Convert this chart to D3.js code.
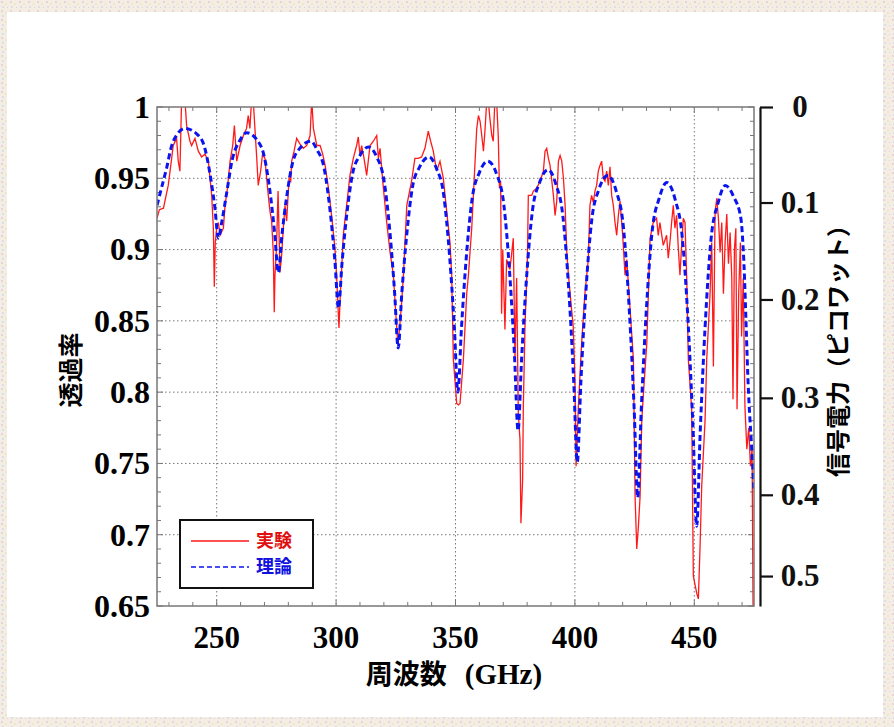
<!DOCTYPE html>
<meta charset="utf-8">
<style>

body {
    margin: 0;
    background: #f2ebe6;
}

text {
    font-family: 'Liberation Serif', 'Times New Roman', serif;
    font-weight: bold;
}

.cjk {
    font-family: 'Noto Sans CJK JP', sans-serif;
    font-weight: bold;
}

.grid line {
    stroke: #777;
    stroke-width: 1;
    stroke-dasharray: 1.5,2.5;
}

.minor line {
    stroke: #777;
    stroke-width: 1;
}

</style>
<svg id="chart" width="894" height="727"></svg>
<script src="https://d3js.org/d3.v7.min.js"></script>

<script>

    // axis values
    var freqTicks = [250, 300, 350, 400, 450];
    var transTicks = [1, 0.95, 0.9, 0.85, 0.8, 0.75, 0.7, 0.65];
    var powerTicks = [0, 0.1, 0.2, 0.3, 0.4, 0.5];
    // where each power tick sits on the transmission scale
    var powerAtTrans = [1.0, 0.933, 0.865, 0.796, 0.728, 0.671];

    // 実験 (measured), [GHz, transmission]
    var experiment = [
        [225.0,0.922],[226.0,0.928],[227.7,0.929],[229.7,0.945],[231.0,0.962],[231.8,0.973],[233.2,0.978],[233.9,0.962],
        [234.6,0.955],[235.3,1.005],[236.7,1.005],[237.4,0.987],[238.8,0.976],[239.5,0.973],[240.9,0.978],[242.3,0.969],
        [243.7,0.965],[245.1,0.967],[246.5,0.962],[247.9,0.938],[248.6,0.915],[249.0,0.874],[249.4,0.905],[250.0,0.915],
        [250.7,0.919],[251.4,0.910],[252.8,0.915],[253.5,0.931],[254.5,0.943],[255.6,0.962],[256.7,0.973],[257.4,0.987],
        [258.4,0.962],[259.8,0.973],[261.2,0.980],[262.5,0.985],[263.2,0.994],[263.9,0.985],[264.6,1.005],[265.3,1.005],
        [266.0,0.985],[266.7,0.966],[267.4,0.945],[268.4,0.955],[269.2,0.967],[270.2,0.964],[270.9,0.950],[271.6,0.938],
        [272.3,0.927],[273.0,0.920],[273.7,0.898],[274.1,0.856],[274.4,0.882],[275.0,0.900],[275.7,0.941],[276.5,0.884],
        [277.2,0.896],[277.9,0.915],[278.6,0.931],[279.3,0.920],[280.3,0.950],[281.0,0.948],[281.4,0.962],[282.4,0.969],
        [283.5,0.978],[284.9,0.974],[286.3,0.971],[287.7,0.973],[289.1,0.980],[289.8,1.005],[290.5,0.985],[291.9,0.973],
        [293.3,0.973],[294.4,0.967],[295.4,0.959],[296.8,0.943],[298.1,0.924],[299.5,0.901],[300.2,0.882],[301.2,0.845],
        [301.8,0.870],[302.3,0.885],[303.0,0.910],[304.4,0.931],[305.8,0.952],[307.2,0.964],[308.6,0.973],[309.3,0.979],
        [310.0,0.966],[310.7,0.973],[311.7,0.964],[312.8,0.952],[314.2,0.973],[315.6,0.976],[317.0,0.980],[317.7,0.964],
        [318.4,0.971],[319.8,0.943],[321.2,0.919],[322.6,0.898],[324.0,0.882],[325.0,0.855],[325.9,0.833],[326.6,0.845],
        [327.4,0.862],[328.2,0.882],[329.6,0.931],[331.0,0.943],[331.6,0.948],[333.0,0.964],[334.4,0.964],[335.8,0.965],
        [337.2,0.971],[338.6,0.983],[339.6,0.976],[340.7,0.969],[342.1,0.955],[343.5,0.962],[344.9,0.950],[346.3,0.927],
        [347.7,0.905],[348.4,0.882],[349.1,0.823],[350.5,0.792],[351.2,0.791],[351.9,0.792],[353.3,0.823],[354.7,0.869],
        [355.4,0.882],[356.8,0.915],[358.2,0.962],[358.9,0.985],[359.6,0.994],[360.3,0.990],[361.0,0.980],[361.7,0.969],
        [362.4,0.985],[363.1,1.005],[363.7,1.005],[364.4,0.992],[365.2,0.980],[365.8,0.976],[366.5,1.005],[367.2,1.005],
        [367.9,0.980],[368.4,0.943],[368.9,0.948],[369.3,0.855],[369.8,0.900],[370.7,0.844],[371.4,0.893],[372.8,0.886],
        [374.2,0.908],[374.9,0.823],[375.6,0.880],[376.3,0.785],[377.0,0.767],[377.4,0.708],[378.1,0.738],[378.4,0.790],
        [379.1,0.846],[380.1,0.893],[380.5,0.938],[381.9,0.938],[382.6,0.941],[384.0,0.943],[385.4,0.948],[386.8,0.955],
        [387.5,0.969],[388.2,0.971],[388.9,0.964],[389.6,0.959],[391.0,0.938],[391.7,0.924],[392.4,0.934],[393.1,0.962],
        [393.8,0.966],[394.5,0.962],[395.2,0.950],[395.9,0.931],[396.6,0.898],[397.3,0.882],[398.5,0.860],[399.3,0.846],
        [400.0,0.811],[400.5,0.748],[401.4,0.788],[402.8,0.834],[404.2,0.869],[405.6,0.893],[406.3,0.931],[407.0,0.938],
        [407.7,0.933],[408.4,0.941],[409.1,0.945],[409.8,0.955],[410.5,0.959],[411.2,0.962],[411.9,0.950],[412.6,0.948],
        [413.3,0.955],[414.0,0.945],[414.7,0.958],[415.4,0.938],[416.1,0.931],[416.8,0.919],[417.5,0.910],[418.2,0.924],
        [418.9,0.934],[420.0,0.910],[421.0,0.882],[421.7,0.893],[423.1,0.858],[424.5,0.823],[425.2,0.727],[425.9,0.690],
        [426.6,0.706],[427.3,0.727],[428.0,0.780],[428.7,0.799],[430.1,0.834],[431.5,0.908],[432.8,0.919],[434.2,0.922],
        [434.9,0.910],[435.6,0.919],[437.0,0.903],[438.4,0.910],[439.1,0.894],[439.8,0.905],[440.5,0.919],[441.2,0.931],
        [441.9,0.915],[442.6,0.924],[443.3,0.901],[444.0,0.882],[444.6,0.900],[445.4,0.922],[446.1,0.919],[446.8,0.882],
        [447.5,0.823],[448.9,0.788],[449.6,0.671],[451.0,0.659],[451.7,0.655],[452.4,0.691],[453.1,0.734],[453.8,0.757],
        [454.5,0.780],[455.2,0.823],[455.9,0.846],[456.6,0.869],[457.3,0.905],[458.0,0.818],[458.7,0.926],[459.4,0.936],
        [460.1,0.922],[460.8,0.898],[461.5,0.919],[462.2,0.869],[462.9,0.905],[463.6,0.925],[464.3,0.890],[465.0,0.912],
        [465.7,0.880],[466.2,0.795],[466.8,0.900],[467.4,0.915],[467.9,0.788],[468.6,0.870],[469.3,0.905],[469.8,0.839],
        [470.5,0.880],[471.2,0.790],[472.0,0.760],[472.8,0.775],[473.5,0.748],[474.2,0.760],[474.6,0.650]
    ];

    // 理論 (theory), [GHz, transmission]
    var theory = [
        [225,0.931],[227,0.944],[229,0.957],[231,0.972],[233.5,0.981],[236.7,0.985],[241.7,0.981],[244.7,0.973],
        [247.2,0.953],[249.2,0.930],[250.7,0.908],[252.2,0.920],[254.2,0.940],[256.5,0.963],[259.5,0.976],[262.5,0.982],
        [266.8,0.977],[269.8,0.966],[272.3,0.941],[274.3,0.911],[275.8,0.884],[277.3,0.910],[279.3,0.937],[281.8,0.961],
        [284.8,0.971],[289.5,0.976],[292.0,0.970],[295.0,0.957],[297.5,0.927],[299.5,0.892],[301.0,0.859],[302.5,0.891],
        [304.5,0.925],[307.0,0.954],[310.0,0.966],[313.5,0.972],[317.0,0.965],[320.0,0.949],[322.5,0.913],[324.5,0.870],
        [326.0,0.831],[327.5,0.869],[329.5,0.909],[332.0,0.944],[335.0,0.958],[339.0,0.965],[342.0,0.957],[345.0,0.939],
        [347.5,0.896],[349.5,0.846],[351.0,0.800],[352.5,0.845],[354.5,0.894],[357.0,0.936],[360.0,0.954],[363.5,0.962],
        [367.2,0.953],[370.2,0.932],[372.7,0.883],[374.7,0.826],[376.2,0.773],[377.7,0.824],[379.7,0.879],[382.2,0.927],
        [385.2,0.947],[388.8,0.956],[392.0,0.946],[395.0,0.923],[397.5,0.870],[399.5,0.808],[401.0,0.751],[402.5,0.807],
        [404.5,0.868],[407.0,0.920],[410.0,0.942],[413.8,0.952],[417.3,0.941],[420.3,0.916],[422.8,0.857],[424.8,0.789],
        [426.3,0.726],[427.8,0.788],[429.8,0.854],[432.3,0.912],[435.3,0.936],[438.5,0.947],[442.0,0.935],[445.0,0.908],
        [447.5,0.846],[449.5,0.773],[451.0,0.706],[452.5,0.773],[454.5,0.845],[457.0,0.907],[460.0,0.933],[463.0,0.945],
        [466.5,0.937],[469.5,0.922],[470.5,0.900],[472.7,0.800],[474.4,0.750],[475,0.730]
    ];

    var svg = d3.select("#chart"),
        plot = {left: 157, right: 754, top: 107, bottom: 606};

    // paper-like border and white panel
    var defs = svg.append("defs");
    var pat = defs.append("pattern").attr("id", "paper")
        .attr("width", 9).attr("height", 9).attr("patternUnits", "userSpaceOnUse");
    pat.append("rect").attr("width", 9).attr("height", 9).attr("fill", "#f3ede4");
    pat.append("rect").attr("x", 1).attr("y", 1).attr("width", 2).attr("height", 2).attr("fill", "#e9d3d6");
    pat.append("rect").attr("x", 5).attr("y", 3).attr("width", 2).attr("height", 2).attr("fill", "#ece8c8");
    pat.append("rect").attr("x", 2).attr("y", 6).attr("width", 2).attr("height", 2).attr("fill", "#dcdde8");
    pat.append("rect").attr("x", 7).attr("y", 7).attr("width", 1).attr("height", 1).attr("fill", "#e8d0c8");

    svg.append("rect").attr("width", 894).attr("height", 727).attr("fill", "url(#paper)");
    svg.append("rect").attr("x", 7).attr("y", 12).attr("width", 876).attr("height", 705)
        .attr("fill", "#fff");

    defs.append("clipPath").attr("id", "clip").append("rect")
        .attr("x", plot.left).attr("y", plot.top)
        .attr("width", plot.right - plot.left).attr("height", plot.bottom - plot.top);

    var x = d3.scaleLinear().domain([225, 475]).range([plot.left, plot.right]);
    var y = d3.scaleLinear().domain([0.65, 1]).range([plot.bottom, plot.top]);
    var power = d3.scaleLinear()
        .domain(powerTicks.concat([0.536]))
        .range(powerAtTrans.concat([0.65]).map(y));

    // dotted grid
    var grid = svg.append("g").attr("class", "grid");
    grid.selectAll(".gx").data(freqTicks).enter().append("line")
        .attr("x1", x).attr("x2", x).attr("y1", plot.top).attr("y2", plot.bottom);
    grid.selectAll(".gy").data(transTicks.slice(1, -1)).enter().append("line")
        .attr("y1", y).attr("y2", y).attr("x1", plot.left).attr("x2", plot.right);

    // inward ticks on all four sides of the frame
    var minor = svg.append("g").attr("class", "minor");
    var xt = d3.range(230, 475, 10);
    minor.selectAll(".tb").data(xt).enter().append("line")
        .attr("x1", x).attr("x2", x).attr("y1", plot.bottom)
        .attr("y2", function(d) { return plot.bottom - (d % 50 ? 4 : 6); });
    minor.selectAll(".tt").data(xt).enter().append("line")
        .attr("x1", x).attr("x2", x).attr("y1", plot.top)
        .attr("y2", function(d) { return plot.top + (d % 50 ? 4 : 6); });
    var yt = y.ticks(35);
    minor.selectAll(".tl").data(yt).enter().append("line")
        .attr("y1", y).attr("y2", y).attr("x1", plot.left)
        .attr("x2", function(d, i) { return plot.left + (i % 5 ? 4 : 6); });
    minor.selectAll(".tr").data(yt).enter().append("line")
        .attr("y1", y).attr("y2", y).attr("x1", plot.right)
        .attr("x2", function(d, i) { return plot.right - (i % 5 ? 4 : 6); });

    // data lines
    var line = d3.line().x(function(d) { return x(d[0]); }).y(function(d) { return y(d[1]); });

    var lines = svg.append("g").attr("clip-path", "url(#clip)");
    lines.append("path").datum(experiment)
        .attr("d", line)
        .attr("fill", "none").attr("stroke", "#ff1a1a").attr("stroke-width", 1.3);
    lines.append("path").datum(theory)
        .attr("d", line.curve(d3.curveMonotoneX))
        .attr("fill", "none").attr("stroke", "#0a14f0").attr("stroke-width", 3)
        .attr("stroke-dasharray", "6,3.5");

    // frame
    svg.append("rect")
        .attr("x", plot.left).attr("y", plot.top)
        .attr("width", plot.right - plot.left).attr("height", plot.bottom - plot.top)
        .attr("fill", "none").attr("stroke", "#777").attr("stroke-width", 1.5);

    // left axis labels
    svg.append("g").selectAll("text").data(transTicks).enter().append("text")
        .attr("x", plot.left - 7).attr("y", y).attr("dy", "0.34em")
        .attr("text-anchor", "end").style("font-size", "32px")
        .text(d3.format(""));

    // bottom axis labels
    svg.append("g").selectAll("text").data(freqTicks).enter().append("text")
        .attr("x", x).attr("y", plot.bottom + 42)
        .attr("text-anchor", "middle").style("font-size", "31px")
        .text(d3.format(""));

    // right power axis
    var rightAxis = svg.append("g")
        .attr("transform", "translate(760,0)")
        .call(d3.axisRight(power).tickValues(powerTicks).tickSize(13).tickSizeOuter(0)
            .tickFormat(d3.format("")));
    rightAxis.selectAll("path, line").attr("stroke", "#111").attr("stroke-width", 2.2);
    rightAxis.selectAll("text")
        .attr("x", 40).attr("text-anchor", "middle")
        .style("font-size", "31px").attr("font-family", null)
        .attr("fill", "#111");

    // axis titles
    svg.append("text").attr("class", "cjk")
        .attr("transform", "translate(80,370) rotate(-90)")
        .attr("text-anchor", "middle").style("font-size", "25px")
        .text("透過率");

    var xTitle = svg.append("text")
        .attr("x", 454).attr("y", 684)
        .attr("text-anchor", "middle").style("font-size", "27px");
    xTitle.append("tspan").attr("class", "cjk").text("周波数");
    xTitle.append("tspan").attr("dx", 18).style("font-size", "29px").text("(GHz)");

    svg.append("text").attr("class", "cjk")
        .attr("transform", "translate(847,345) rotate(-90)")
        .attr("text-anchor", "middle").style("font-size", "24px")
        .text("信号電力（ピコワット）");

    // legend
    var legend = svg.append("g").attr("transform", "translate(180,520)");
    legend.append("rect").attr("width", 133).attr("height", 68)
        .attr("fill", "#fff").attr("stroke", "#111").attr("stroke-width", 2);
    legend.append("line").attr("x1", 11).attr("x2", 69).attr("y1", 21).attr("y2", 21)
        .attr("stroke", "#ff1a1a").attr("stroke-width", 1.3);
    legend.append("line").attr("x1", 11).attr("x2", 69).attr("y1", 47).attr("y2", 47)
        .attr("stroke", "#0a14f0").attr("stroke-width", 1.6).attr("stroke-dasharray", "5,3");
    legend.append("text").attr("class", "cjk").attr("x", 76).attr("y", 21).attr("dy", "0.36em")
        .attr("fill", "#e01010").style("font-size", "18px").text("実験");
    legend.append("text").attr("class", "cjk").attr("x", 76).attr("y", 47).attr("dy", "0.36em")
        .attr("fill", "#1010e0").style("font-size", "18px").text("理論");

</script>
